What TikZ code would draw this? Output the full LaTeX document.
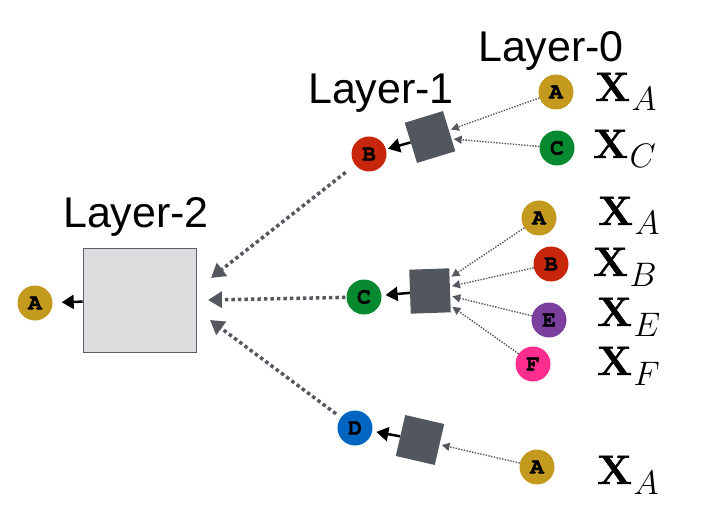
\RequirePackage{fix-cm}
\documentclass[tikz,border=0pt]{standalone}
\usepackage[no-math]{fontspec}
\setmainfont{Liberation Sans}
\newfontfamily\circfont{TeX Gyre Cursor}[BoldFeatures={FakeBold=1.5}]
\newfontfamily\lmrfont{Latin Modern Roman}[BoldFeatures={FakeBold=1.2}]
\usetikzlibrary{arrows.meta}
\definecolor{cgold}{HTML}{C49A1E}
\definecolor{cred}{HTML}{C8260A}
\definecolor{cgreen}{HTML}{078A2F}
\definecolor{cpurple}{HTML}{7B3F9E}
\definecolor{cpink}{HTML}{FF2D8E}
\definecolor{cblue}{HTML}{0066C2}
\definecolor{sqgray}{HTML}{52575E}
\definecolor{boxfill}{HTML}{DCDDDF}
\definecolor{boxline}{HTML}{5A5E66}
\definecolor{dotgray}{HTML}{55595F}
\DeclareMathSizes{34}{34}{24}{17}
\tikzset{
  vnode/.style={circle, minimum size=35pt, inner sep=0pt, text=black,
    font=\circfont\bfseries\fontsize{23}{23}\selectfont},
  agg/.style={fill=sqgray, minimum width=40pt, minimum height=42pt, inner sep=0pt},
  thinarr/.style={draw=dotgray, line width=1.4pt, dash pattern=on 1.4pt off 1.4pt,
    -{Triangle[length=8pt,width=8pt]}, shorten >=2pt},
  thickarr/.style={draw=dotgray, line width=3.5pt, dash pattern=on 3.5pt off 3pt,
    -{Triangle[length=14pt,width=16pt]}},
  blkarr/.style={draw=black, line width=2.5pt, -{Triangle[length=12pt,width=14pt]}},
  ttl/.style={anchor=base, inner sep=0pt, font=\fontsize{43}{43}\selectfont},
  xl/.style={anchor=base west, inner sep=0pt, font=\fontsize{41}{41}\selectfont}
}
\newcommand{\xlab}[1]{{\lmrfont\bfseries X}\kern1.5pt\raisebox{-10pt}{\fontsize{34}{34}\selectfont$#1$}}
\begin{document}
\begin{tikzpicture}[x=1pt,y=-1pt]
\path[use as bounding box] (0,0) rectangle (715,505);

% titles
\node[ttl] (t0) at (551,62) {Layer-0};
\node[ttl] (t1) at (381,104) {Layer-1};
\node[ttl] (t2) at (136,228) {Layer-2};

% layer 0 nodes
\node[vnode, fill=cgold]   (a0t) at (556,92)  {A};
\node[vnode, fill=cgreen]  (c0t) at (557,148) {C};
\node[vnode, fill=cgold]   (a0m) at (539,218) {A};
\node[vnode, fill=cred]    (b0m) at (551,264) {B};
\node[vnode, fill=cpurple] (e0m) at (549,320) {E};
\node[vnode, fill=cpink]   (f0m) at (533,364) {F};
\node[vnode, fill=cgold]   (a0b) at (537,467) {A};

% feature labels
\node[xl] (xa1) at (595,101) {\xlab{A}};
\node[xl] (xc1) at (593,158) {\xlab{C}};
\node[xl] (xa2) at (598,225) {\xlab{A}};
\node[xl] (xb2) at (593,276) {\xlab{B}};
\node[xl] (xe2) at (597,326) {\xlab{E}};
\node[xl] (xf2) at (597,375) {\xlab{F}};
\node[xl] (xa3) at (597,484) {\xlab{A}};

% aggregation squares
\node[agg, rotate=17]  (sq1) at (430,137) {};
\node[agg, rotate=2, minimum height=44pt] (sq2) at (430,291) {};
\node[agg, rotate=-13] (sq3) at (420,440) {};

% layer 1 nodes
\node[vnode, fill=cred]   (b1) at (369,154) {B};
\node[vnode, fill=cgreen] (c1) at (364,297) {C};
\node[vnode, fill=cblue]  (d1) at (355,428) {D};

% layer 2
\node[draw=boxline, fill=boxfill, line width=0.8pt, minimum width=113pt,
      minimum height=104pt, inner sep=0pt] (L2) at (139.5,300) {};
\node[vnode, fill=cgold] (a2) at (35,303) {A};

% thin arrows layer 0 -> squares
\draw[thinarr] (a0t) -- (sq1);
\draw[thinarr] (c0t) -- (sq1);
\draw[thinarr] (a0m) -- (sq2);
\draw[thinarr] (b0m) -- (sq2);
\draw[thinarr] (e0m) -- (sq2);
\draw[thinarr] (f0m) -- (sq2);
\draw[thinarr] (a0b) -- (sq3);

% black arrows squares -> layer 1 nodes
\draw[blkarr, shorten >=2pt] (sq1) -- (b1);
\draw[blkarr, shorten >=4pt] (sq2) -- (c1);
\draw[blkarr, shorten >=4pt] (sq3) -- (d1);
\draw[blkarr, shorten >=9pt] (L2) -- (a2);

% thick dotted arrows layer 1 -> layer 2
\coordinate (tp1) at (211,278);
\coordinate (tp2) at (208,300);
\coordinate (tp3) at (210,320);
\draw[thickarr, shorten <=12pt] (b1) -- (tp1);
\draw[thickarr, shorten <=1pt] (c1) -- (tp2);
\draw[thickarr, shorten <=6pt] (d1) -- (tp3);
\end{tikzpicture}
\end{document}
